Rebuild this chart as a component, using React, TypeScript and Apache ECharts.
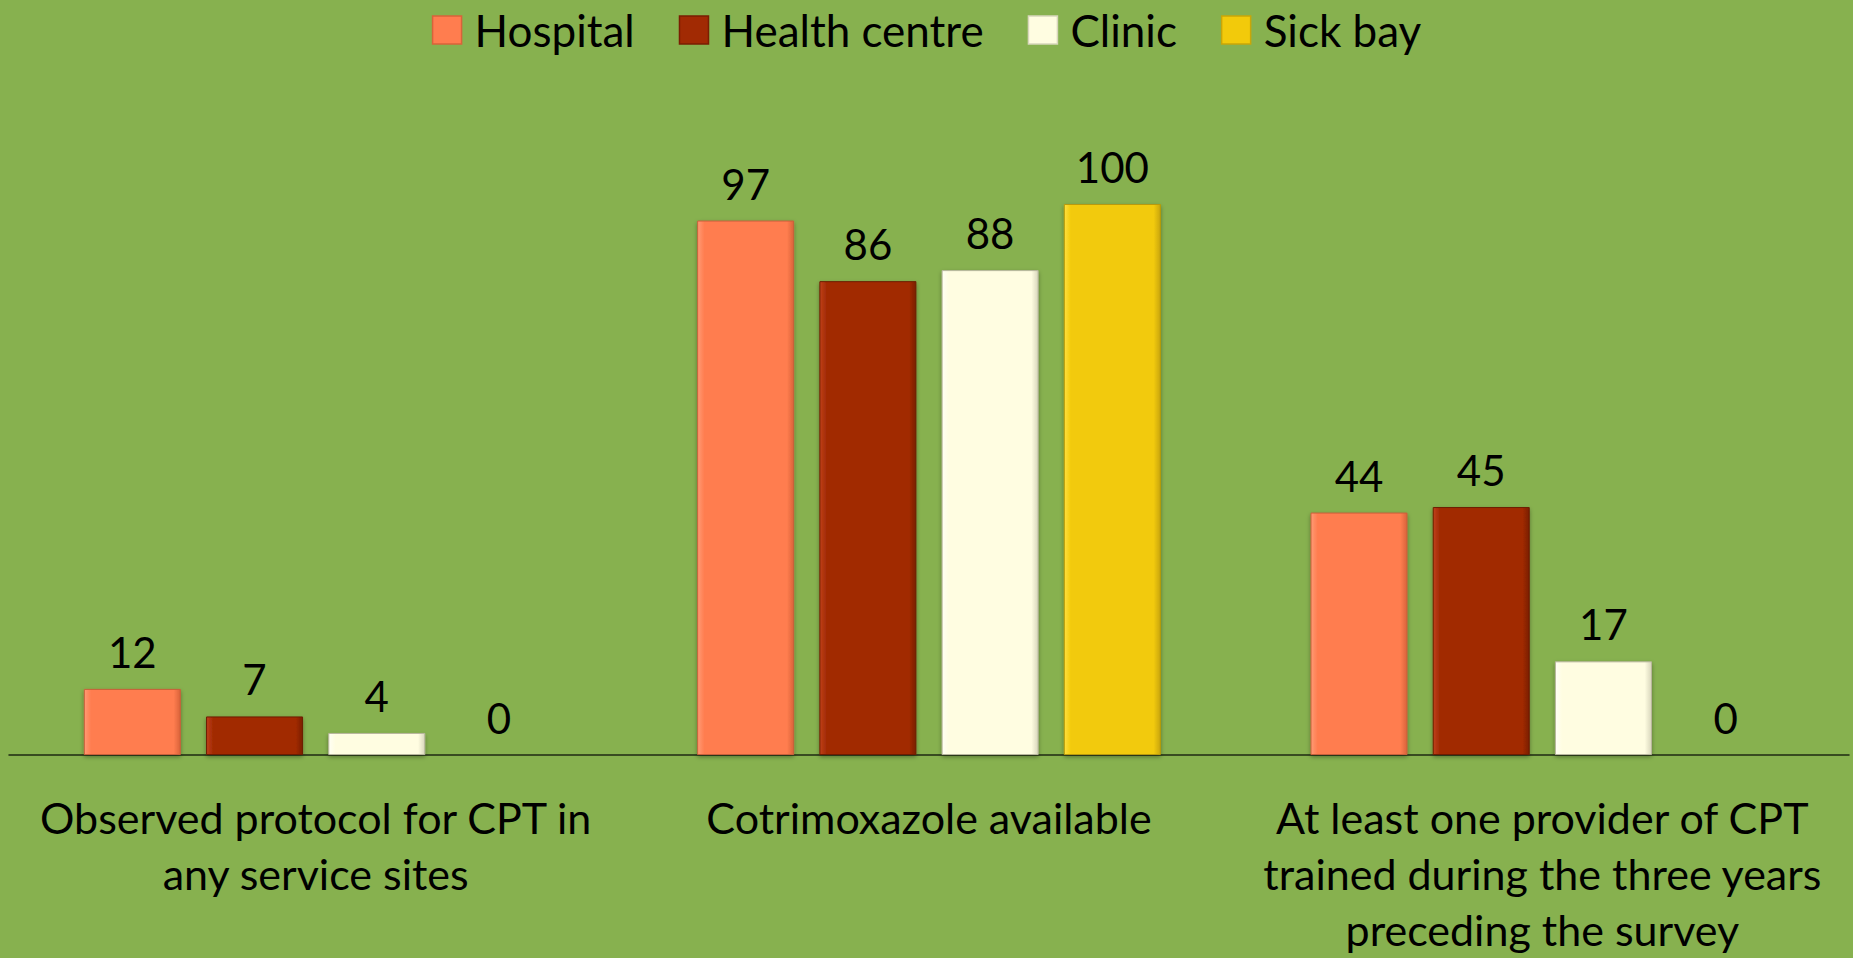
import React, { useEffect, useRef } from "react";
import * as echarts from "echarts";

const categories = [
  "Observed protocol for CPT in\nany service sites",
  "Cotrimoxazole available",
  "At least one provider of CPT\ntrained during the three years\npreceding the survey",
];
const seriesNames = ["Hospital", "Health centre", "Clinic", "Sick bay"];
const hospital = [12, 97, 44];
const healthCentre = [7, 86, 45];
const clinic = [4, 88, 17];
const sickBay = [0, 100, 0];

const colors = ["#FF7D4F", "#A12A03", "#FFFDE1", "#F2CA0B"];
const lights = ["#FF9A75", "#C0401A", "#FFFFF4", "#FFE040"];
const darks = ["#D9633A", "#7A1E02", "#D8D6BC", "#C9A608"];
const borders = ["#C8603A", "#6E1C02", "#B8B69E", "#B89A08"];

const FONT = "Lato";

export default function App() {
  const ref = useRef<HTMLDivElement>(null);
  useEffect(() => {
    if (!ref.current) return;
    document.body.style.margin = "0";
    const chart = echarts.init(ref.current, undefined, { renderer: "svg" });
    const values = [hospital, healthCentre, clinic, sickBay];
    chart.setOption({
      animation: false,
      backgroundColor: "#87B14F",
      textStyle: { fontFamily: FONT },
      legend: {
        top: 3,
        left: "center",
        itemWidth: 29,
        itemHeight: 28,
        itemGap: 44,
        icon: "rect",
        textStyle: {
          fontFamily: FONT,
          fontSize: 44,
          color: "#000",
          padding: [0, 0, 0, 8],
        },
        data: seriesNames.map((name, i) => ({
          name,
          itemStyle: { color: colors[i], borderColor: darks[i], borderWidth: 1.5 },
        })),
      },
      grid: {
        left: 9,
        right: 4,
        top: 204,
        bottom: 203,
        containLabel: false,
        outerBoundsMode: "none",
      },
      xAxis: {
        type: "category",
        data: categories,
        axisLine: { show: true, lineStyle: { color: "#1e2a12", width: 1.5 } },
        axisTick: { show: false },
        axisLabel: {
          interval: 0,
          margin: 34,
          fontFamily: FONT,
          fontSize: 43,
          lineHeight: 56,
          color: "#000",
          align: "center",
          verticalAlign: "top",
        },
      },
      yAxis: {
        type: "value",
        min: 0,
        max: 100,
        show: false,
        splitLine: { show: false },
      },
      series: seriesNames.map((name, i) => ({
        name,
        type: "bar",
        data: values[i],
        barWidth: 97,
        barGap: "26%",
        itemStyle: {
          color: new echarts.graphic.LinearGradient(0, 0, 1, 0, [
            { offset: 0, color: lights[i] },
            { offset: 0.07, color: colors[i] },
            { offset: 0.93, color: colors[i] },
            { offset: 1, color: darks[i] },
          ]),
          borderColor: borders[i],
          borderWidth: 1,
          shadowColor: "rgba(0,0,0,0.35)",
          shadowBlur: 4,
          shadowOffsetY: 2,
        },
        label: {
          show: true,
          position: "top",
          distance: 16,
          fontFamily: FONT,
          fontSize: 42,
          color: "#000",
        },
      })),
    });
    return () => chart.dispose();
  }, []);
  return (
    <div
      ref={ref}
      style={{ position: "fixed", left: 0, top: 0, width: 1853, height: 958 }}
    />
  );
}
